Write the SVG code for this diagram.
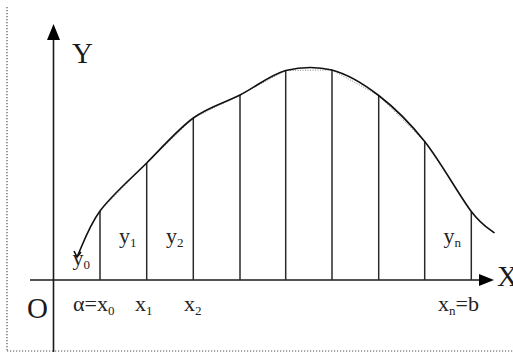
<svg xmlns="http://www.w3.org/2000/svg" width="513" height="353" viewBox="0 0 513 353">
<style>
.frame{stroke:#555;stroke-width:1.2;stroke-dasharray:1.2 1.8;fill:none}
.axis{stroke:#1a1a1a;stroke-width:1.6;fill:none}
.ord{stroke:#2a2a2a;stroke-width:1.5;fill:none}
.curve{stroke:#111;stroke-width:1.6;fill:none}
.chord{stroke:#888;stroke-width:1;stroke-dasharray:1 1.5;fill:none}
.big{font-family:"Liberation Serif","Times New Roman",serif;font-size:29px;fill:#1a1a1a}
.lbl{font-family:"Liberation Serif","Times New Roman",serif;font-size:22px;fill:#222}
.sub{font-size:13px}
.head{fill:#000}
</style>
<rect width="513" height="353" fill="#fff"/>
<g id="frame">
<line class="frame" x1="7" y1="7" x2="7" y2="351"/>
<line class="frame" x1="7" y1="351" x2="513" y2="351"/>
</g>
<g id="axes">
<line class="axis" x1="53.5" y1="38" x2="53.5" y2="352"/>
<polygon class="head" points="53.5,24 47,40 60,40"/>
<line class="axis" x1="30" y1="280" x2="481" y2="280"/>
<polygon class="head" points="494,280 479,274 479,286"/>
</g>
<g id="connectors">
<line class="ord" x1="100" y1="280" x2="100" y2="211"/>
<line class="ord" x1="146.7" y1="280" x2="146.7" y2="163"/>
<line class="ord" x1="193.3" y1="280" x2="193.3" y2="118"/>
<line class="ord" x1="240" y1="280" x2="240" y2="95"/>
<line class="ord" x1="285.7" y1="280" x2="285.7" y2="70.5"/>
<line class="ord" x1="332" y1="280" x2="332" y2="70"/>
<line class="ord" x1="378.7" y1="280" x2="378.7" y2="95.5"/>
<line class="ord" x1="424.7" y1="280" x2="424.7" y2="141.5"/>
<line class="ord" x1="471.3" y1="280" x2="471.3" y2="211.5"/>
<polyline class="chord" points="100,211 146.7,163 193.3,118 240,95 285.7,70.5 332,70 378.7,95.5 424.7,141.5 471.3,211.5"/>
<path class="curve" d="M77,257 C80.8,249.3 88.4,226.7 100,211 C111.6,195.3 131.2,178.5 146.7,163 C162.25,147.5 177.8,129.3 193.3,118 C208.85,106.7 224.6,102.9 240,95 C255.4,87.1 270.4,74.7 285.7,70.5 C301,66.8 316.5,66.3 332,70 C347.5,74.2 363.25,83.6 378.7,95.5 C394.15,107.4 409.3,122.2 424.7,141.5 C440.1,160.8 459.7,196.25 471.3,211.5 C482.9,226.75 490.6,229.4 494.5,233"/>
<path class="curve" d="M74,251 L77,257 L81,252"/>
</g>
<g id="label-Y"><text class="big" x="72" y="63">Y</text></g>
<g id="label-X"><text class="big" x="497" y="286">X</text></g>
<g id="label-O"><text class="big" x="27" y="318">O</text></g>
<g id="label-y0"><text class="lbl" x="72.5" y="265">y<tspan class="sub" dy="4">0</tspan></text></g>
<g id="label-y1"><text class="lbl" x="119" y="243">y<tspan class="sub" dy="4">1</tspan></text></g>
<g id="label-y2"><text class="lbl" x="166" y="243">y<tspan class="sub" dy="4">2</tspan></text></g>
<g id="label-yn"><text class="lbl" x="443.5" y="243">y<tspan class="sub" dy="4">n</tspan></text></g>
<g id="label-x0"><text class="lbl" x="73" y="311">α=x<tspan class="sub" dy="4">0</tspan></text></g>
<g id="label-x1"><text class="lbl" x="135" y="311">x<tspan class="sub" dy="4">1</tspan></text></g>
<g id="label-x2"><text class="lbl" x="184" y="311">x<tspan class="sub" dy="4">2</tspan></text></g>
<g id="label-xn"><text class="lbl" x="438" y="311">x<tspan class="sub" dy="4">n</tspan><tspan dy="-4">=b</tspan></text></g>
</svg>
